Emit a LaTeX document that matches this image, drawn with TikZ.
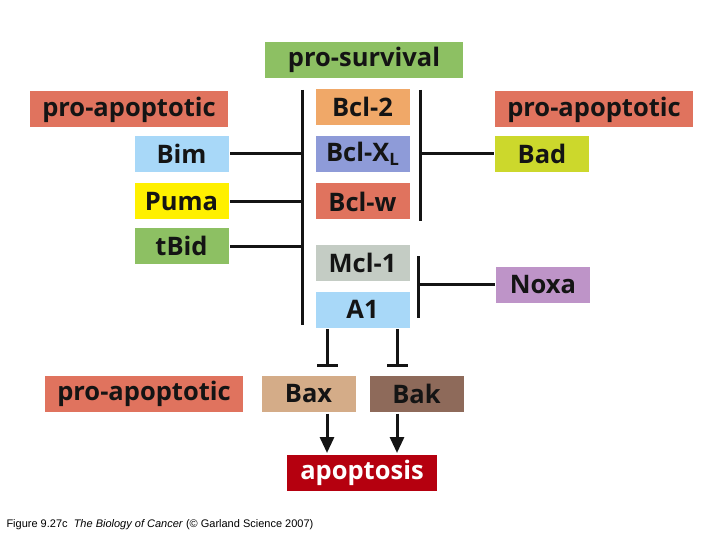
\documentclass[tikz,border=0pt]{standalone}
\usepackage{fontspec}
\setmainfont{Open Sans}
\newfontfamily\capfont{Liberation Sans}
\usetikzlibrary{arrows.meta}
\definecolor{survgreen}{HTML}{8DC063}
\definecolor{salmon}{HTML}{E0735E}
\definecolor{bcltwo}{HTML}{F0A868}
\definecolor{bclxl}{HTML}{8E9BD8}
\definecolor{mclgray}{HTML}{C4CCC4}
\definecolor{lightblue}{HTML}{A8D8F8}
\definecolor{pumayel}{HTML}{FFF000}
\definecolor{badyel}{HTML}{CCD82C}
\definecolor{noxapur}{HTML}{BE94C8}
\definecolor{baxtan}{HTML}{D4AC88}
\definecolor{bakbrown}{HTML}{8E6A5A}
\definecolor{apopred}{HTML}{B5000F}
\definecolor{ink}{HTML}{141414}

\begin{document}
\begin{tikzpicture}[x=1pt,y=-1pt,line width=3pt,
  box/.style={fill=#1,text=ink,inner sep=0pt,minimum height=36pt,
    font=\fontsize{25.5}{25.5}\bfseries},
  wide/.style={box=#1,minimum width=198pt},
  small/.style={box=#1,minimum width=94pt},
  inhib/.style={-{Bar[width=21pt,line width=3pt]}},
  act/.style={-{Triangle[width=14pt,length=16pt]}}]
\useasboundingbox (0,0) rectangle (720,540);
\node[wide=survgreen]          (surv)  at (364,60)    {pro-survival};
\node[wide=salmon]             (proL)  at (129,109.5) {pro-apoptotic};
\node[wide=salmon]             (proR)  at (594,109.5) {pro-apoptotic};
\node[wide=salmon]             (proB)  at (144,394)   {pro-apoptotic};
\node[small=bcltwo]            (bcl2)  at (362.5,107) {Bcl-2};
\node[small=bclxl]             (bclxl) at (362.5,154) {Bcl-X\raisebox{-0.3ex}{\fontsize{17}{17}\selectfont L}};
\node[small=salmon]            (bclw)  at (362.5,201.5) {Bcl-w};
\node[small=mclgray]           (mcl)   at (362.5,263) {Mcl-1};
\node[small=lightblue]         (aone)  at (362.5,309.5) {A1};
\node[small=lightblue]         (bim)   at (181.5,154) {Bim};
\node[small=pumayel]           (puma)  at (181.5,201.5) {Puma};
\node[small=survgreen]         (tbid)  at (181.5,246) {tBid};
\node[small=badyel]            (bad)   at (542,154)   {Bad};
\node[small=noxapur]           (noxa)  at (543,284.5) {Noxa};
\node[small=baxtan]            (bax)   at (308.5,394) {Bax};
\node[small=bakbrown]          (bak)   at (416.5,394) {Bak};
\node[box=apopred,text=white,minimum width=150pt] (apop) at (362,472.5) {apoptosis};

\coordinate (barL) at (302,90);
\coordinate (barLend) at (302,325);
\coordinate (barR) at (420,90);
\coordinate (barRend) at (420,221);
\coordinate (barN) at (418,256);
\coordinate (barNend) at (418,318);
\coordinate (tBax) at (327,367);
\coordinate (tBak) at (397,367);

\draw[ink] (barL) -- (barLend);
\draw[ink] (barR) -- (barRend);
\draw[ink] (barN) -- (barNend);
\draw[ink] (bim.east)  -- (bim.east -| barL);
\draw[ink] (puma.east) -- (puma.east -| barL);
\draw[ink] (tbid.east) -- (tbid.east -| barL);
\draw[ink] (bad.west)  -- (bad.west -| barR);
\draw[ink] (noxa.west) -- (noxa.west -| barN);
\draw[ink,inhib] (aone.south -| tBax) -- (tBax);
\draw[ink,inhib] (aone.south -| tBak) -- (tBak);
\draw[ink,act] (bax.south -| tBax) -- (apop.north -| tBax);
\draw[ink,act] (bak.south -| tBak) -- (apop.north -| tBak);

\node[anchor=west,inner sep=0pt,font=\capfont\fontsize{11}{12}\selectfont] (caption) at (5,525)
  {Figure 9.27c\ \ \textit{The Biology of Cancer} (\textcopyright\ Garland Science 2007)};
\end{tikzpicture}
\end{document}
